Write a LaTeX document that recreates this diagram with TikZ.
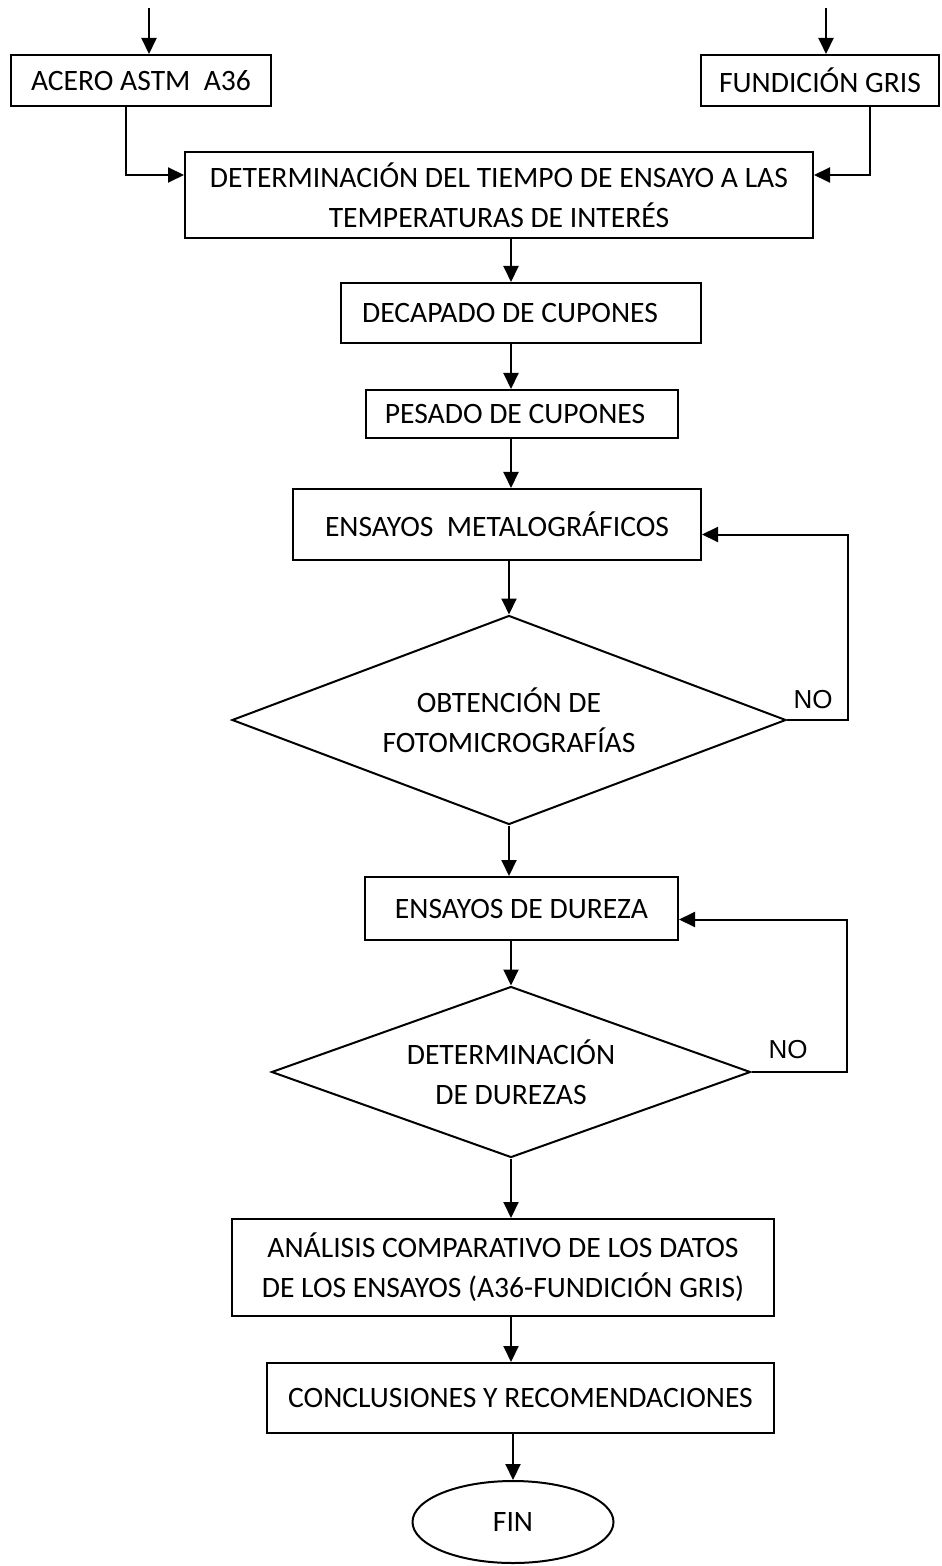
\documentclass[tikz,border=0pt]{standalone}
\usepackage{fontspec}
\setmainfont{Carlito}
\newfontfamily\arialfont{Liberation Sans}
\usepackage{tikz}
\usetikzlibrary{
    arrows.meta,
    shapes,
    shapes.geometric,
    positioning
}

\begin{document}
\begin{tikzpicture}[x=0.5pt, y=-0.5pt, line width=1pt,
                        >={Triangle[length=8pt, width=7.5pt]},
                        font=\fontsize{14.8}{20}\selectfont,
                        blk/.style={draw, inner sep=0pt, align=center},
                        dcs/.style={draw, diamond, aspect=2.6, inner sep=0pt, align=center},
                        term/.style={draw, ellipse, inner sep=0pt},
                        nolbl/.style={font=\arialfont\fontsize{13}{15}\selectfont}]
                        \useasboundingbox (0, 0) rectangle (941, 1566);

                        \coordinate (in1) at (149, 8);
                        \coordinate (in2) at (826, 8);
                        \coordinate (axis) at (511, 0);

                        \node[blk, minimum width=130pt, minimum height=25.5pt] (ac) at (141, 80.5) {ACERO ASTM\ \ A36};
                        \node[blk, minimum width=119pt, minimum height=25.5pt] (fg) at (820, 80.5) {FUNDICIÓN GRIS};
                        \node[blk, minimum width=314pt, minimum height=43pt] (det) at (499, 195) {DETERMINACIÓN DEL TIEMPO DE ENSAYO A LAS\\TEMPERATURAS DE INTERÉS};
                        \node[blk, minimum width=180pt, minimum height=30pt] (dec) at (521, 313) {DECAPADO DE CUPONES\hspace*{11pt}};
                        \node[blk, minimum width=156pt, minimum height=24pt] (pes) at (522, 414) {PESADO DE CUPONES\hspace*{7pt}};
                        \node[blk, minimum width=204pt, minimum height=35.5pt] (met) at (497, 524.5) {ENSAYOS\ \ METALOGRÁFICOS};
                        \node[dcs, minimum width=277pt, minimum height=104.5pt] (fot) at (509, 720) {OBTENCIÓN DE\\FOTOMICROGRAFÍAS};
                        \node[blk, minimum width=156.5pt, minimum height=31.5pt] (dur) at (521.5, 908.5) {ENSAYOS DE DUREZA};
                        \node[dcs, minimum width=239.5pt, minimum height=85.5pt] (dz) at (511, 1072) {DETERMINACIÓN\\DE DUREZAS};
                        \node[blk, minimum width=271pt, minimum height=48.5pt] (an) at (503, 1267.5) {ANÁLISIS COMPARATIVO DE LOS DATOS\\DE LOS ENSAYOS (A36-FUNDICIÓN GRIS)};
                        \node[blk, minimum width=253.5pt, minimum height=35pt] (con) at (520.5, 1398) {CONCLUSIONES Y RECOMENDACIONES};
                        \node[term, minimum width=100.5pt, minimum height=41pt] (fin) at (513, 1522) {FIN};
                        \node[nolbl] (no1) at (813, 700) {NO};
                        \node[nolbl] (no2) at (788, 1050) {NO};

                        \draw
                        (in1) edge[->] (in1 |- ac.north)
                        (in2) edge[->] (in2 |- fg.north)
                        (det.south -| axis) edge[->] (dec.north -| axis)
                        (dec.south -| axis) edge[->] (pes.north -| axis)
                        (pes.south -| axis) edge[->] (met.north -| axis)
                        (met.south -| fot.north) edge[->] (fot.north)
                        (fot.south) edge[->] (dur.north -| fot.south)
                        (dur.south -| dz.north) edge[->] (dz.north)
                        (dz.south) edge[->] (an.north -| dz.south)
                        (an.south -| axis) edge[->] (con.north -| axis)
                        (con.south -| fin.north) edge[->] (fin.north);

                        \draw[->] ([xshift=-7.5pt]ac.south) |- ([yshift=10pt]det.west);
                        \draw[->] ([xshift=24.75pt]fg.south) |- ([yshift=10pt]det.east);
                        \draw[->] (fot.east) -- (848, 720) |- ([yshift=-5pt]met.east);
                        \draw[->] (dz.east) -- (847, 1072) |- ([yshift=-5.5pt]dur.east);
                    \end{tikzpicture}
\end{document}
